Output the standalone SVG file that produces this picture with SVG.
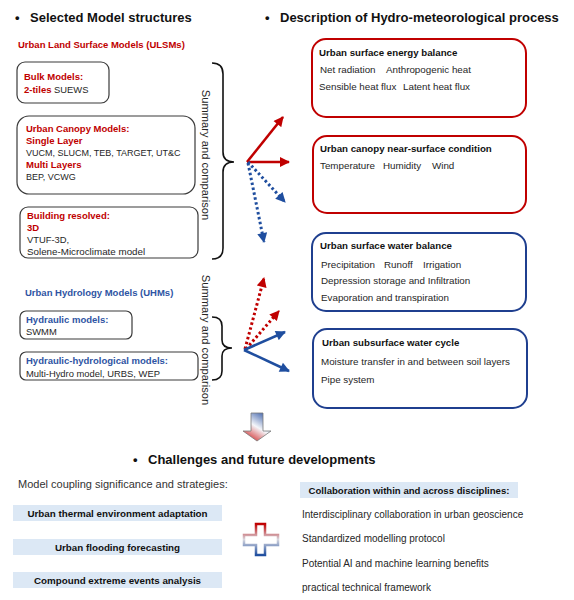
<svg xmlns="http://www.w3.org/2000/svg" width="574" height="600" viewBox="0 0 574 600">
<style>
text{font-family:"Liberation Sans",Arial,sans-serif;fill:#1a1a1a}
.h{font-size:13px;font-weight:bold;fill:#111}
.lab{font-size:9.5px;font-weight:bold}
.red{fill:#C00000}
.blu{fill:#2E54A3}
.t{font-size:9.4px;fill:#262626}
.r{font-size:9.8px;fill:#262626}
.bt{font-size:9.7px;font-weight:bold;fill:#111}
.lb{fill:#fff;stroke:#3a3a3a;stroke-width:1.2}
.rb{fill:#fff;stroke:#C00000;stroke-width:2}
.bb{fill:#fff;stroke:#1F3F8F;stroke-width:2}
.bar{fill:#DCE8F5}
.brk{fill:none;stroke:#111;stroke-width:1.6}
.sr{stroke:#C00000;stroke-width:2.6;fill:none}
.sb{stroke:#1F4E9F;stroke-width:2.6;fill:none}
.dr{stroke:#C00000;stroke-width:3;stroke-dasharray:2.5 2.5;fill:none}
.db{stroke:#1F4E9F;stroke-width:3;stroke-dasharray:2.5 2.5;fill:none}
.sum{font-size:11.2px;fill:#262626}
</style>
<defs>
<marker id="aR" viewBox="0 0 10 10" refX="9" refY="5" markerWidth="11" markerHeight="10" markerUnits="userSpaceOnUse" orient="auto"><path d="M0,0 L10,5 L0,10 z" fill="#C00000"/></marker>
<marker id="aB" viewBox="0 0 10 10" refX="9" refY="5" markerWidth="11" markerHeight="10" markerUnits="userSpaceOnUse" orient="auto"><path d="M0,0 L10,5 L0,10 z" fill="#1F4E9F"/></marker>
<linearGradient id="gA" x1="0.8" y1="0" x2="0.2" y2="1"><stop offset="0" stop-color="#3F62AA"/><stop offset="0.5" stop-color="#F4F6FA"/><stop offset="1" stop-color="#D02525"/></linearGradient>
<linearGradient id="gP" gradientUnits="userSpaceOnUse" x1="0" y1="524" x2="0" y2="555"><stop offset="0" stop-color="#C00000"/><stop offset="0.5" stop-color="#D8D8E0"/><stop offset="1" stop-color="#1F4E9F"/></linearGradient>
</defs>

<g id="headers">
<text class="h" x="15" y="22">•</text><text class="h" x="30" y="22">Selected Model structures</text>
<text class="h" x="265" y="22">•</text><text class="h" x="280" y="22">Description of Hydro-meteorological process</text>
<text class="h" x="133" y="464">•</text><text class="h" x="148" y="464">Challenges and future developments</text>
</g>

<text class="lab red" x="18" y="48">Urban Land Surface Models (ULSMs)</text>

<g id="bulk">
<rect class="lb" x="17" y="62" width="92" height="41" rx="8"/>
<text class="lab red" x="24" y="80">Bulk Models:</text>
<text x="24" y="92.5" class="t"><tspan class="lab red">2-tiles</tspan> SUEWS</text>
</g>

<g id="canopy">
<rect class="lb" x="17" y="116" width="178" height="78" rx="12"/>
<text class="lab red" x="26" y="131.5">Urban Canopy Models:</text>
<text class="lab red" x="26" y="143.5">Single Layer</text>
<text class="t" x="26" y="156" style="font-size:9px">VUCM, SLUCM, TEB, TARGET, UT&amp;C</text>
<text class="lab red" x="26" y="168">Multi Layers</text>
<text class="t" x="26" y="180" style="font-size:9px">BEP, VCWG</text>
</g>

<g id="building">
<rect class="lb" x="20" y="207" width="178" height="51" rx="8"/>
<text class="lab red" x="27" y="218.5">Building resolved:</text>
<text class="lab red" x="27" y="230.5">3D</text>
<text class="t" x="27" y="242.5">VTUF-3D,</text>
<text class="t" x="27" y="255" style="font-size:9.8px">Solene-Microclimate model</text>
</g>

<text class="lab blu" x="25" y="295.5">Urban Hydrology Models (UHMs)</text>

<g id="hydraulic">
<rect class="lb" x="20" y="311" width="112" height="28" rx="6"/>
<text class="lab blu" x="26" y="322.5">Hydraulic models:</text>
<text class="t" x="26" y="334.5">SWMM</text>
</g>

<g id="hydrohydro">
<rect class="lb" x="20" y="352" width="178" height="28" rx="6"/>
<text class="lab blu" x="26" y="363.5">Hydraulic-hydrological models:</text>
<text class="t" x="26" y="376.5">Multi-Hydro model, URBS, WEP</text>
</g>

<g id="summary1">
<path class="brk" d="M212,63 Q223,63 223,74 L223,152 Q223,162 234,162 Q223,162 223,172 L223,248 Q223,259 212,259"/>
<text class="sum" transform="translate(201.5,155) rotate(90)" text-anchor="middle">Summary and comparison</text>
</g>
<g id="summary2">
<path class="brk" d="M212,317 Q222,317 222,326 L222,340 Q222,348 232,348 Q222,348 222,356 L222,371 Q222,380 212,380"/>
<text class="sum" transform="translate(201.5,340) rotate(90)" text-anchor="middle">Summary and comparison</text>
</g>

<g id="energy">
<rect class="rb" x="312" y="39" width="214" height="78" rx="14"/>
<text class="bt" x="319" y="55.5">Urban surface energy balance</text>
<text class="r" x="320" y="72.5">Net radiation</text>
<text class="r" x="386" y="73">Anthropogenic heat</text>
<text class="r" x="319" y="89.5">Sensible heat flux</text>
<text class="r" x="403" y="89.5">Latent heat flux</text>
</g>

<g id="nearsurface">
<rect class="rb" x="313" y="136" width="213" height="77" rx="14"/>
<text class="bt" x="320" y="151.5">Urban canopy near-surface condition</text>
<text class="r" x="320" y="168.5">Temperature</text>
<text class="r" x="383" y="168.5">Humidity</text>
<text class="r" x="432" y="168.5">Wind</text>
</g>

<g id="waterbalance">
<rect class="bb" x="312" y="233" width="214" height="78" rx="14"/>
<text class="bt" x="320" y="248.5">Urban surface water balance</text>
<text class="r" x="321" y="267.5">Precipitation</text>
<text class="r" x="384" y="267.5">Runoff</text>
<text class="r" x="423" y="267.5">Irrigation</text>
<text class="r" x="321" y="284">Depression storage and Infiltration</text>
<text class="r" x="321" y="300.5">Evaporation and transpiration</text>
</g>

<g id="subsurface">
<rect class="bb" x="313" y="329" width="214" height="79" rx="14"/>
<text class="bt" x="322" y="345.5">Urban subsurface water cycle</text>
<text class="r" x="321" y="364.5">Moisture transfer in and between soil layers</text>
<text class="r" x="321" y="382.5">Pipe system</text>
</g>

<g id="connectors">
<line class="sr" x1="247" y1="162" x2="283" y2="117" marker-end="url(#aR)"/>
<line class="sr" x1="247" y1="162" x2="289" y2="162" marker-end="url(#aR)"/>
<line class="db" x1="248" y1="162" x2="285" y2="202" marker-end="url(#aB)"/>
<line class="db" x1="248" y1="163" x2="264" y2="242" marker-end="url(#aB)"/>
<line class="dr" x1="245" y1="349" x2="264" y2="278" marker-end="url(#aR)"/>
<line class="dr" x1="246" y1="349" x2="279" y2="311" marker-end="url(#aR)"/>
<line class="sb" x1="244" y1="350" x2="285" y2="332" marker-end="url(#aB)"/>
<line class="sb" x1="244" y1="350" x2="289" y2="371" marker-end="url(#aB)"/>
</g>

<g id="downarrow">
<path d="M251,413 L263,413 L263,431 L271,431 L257,441 L243,431 L251,431 Z" fill="url(#gA)" stroke="#7a7a7a" stroke-width="0.8"/>
</g>

<text x="18" y="488" style="font-size:11px;fill:#333">Model coupling significance and strategies:</text>

<g id="thermal">
<rect class="bar" x="13" y="505" width="209" height="16"/>
<text class="bt" x="117.5" y="516.5" text-anchor="middle" style="font-size:9.8px">Urban thermal environment adaptation</text>
</g>
<g id="flooding">
<rect class="bar" x="13" y="539" width="209" height="16"/>
<text class="bt" x="117.5" y="550.5" text-anchor="middle" style="font-size:9.8px">Urban flooding forecasting</text>
</g>
<g id="compound">
<rect class="bar" x="13" y="572" width="209" height="16"/>
<text class="bt" x="117.5" y="583.5" text-anchor="middle" style="font-size:9.8px">Compound extreme events analysis</text>
</g>

<g id="plus">
<path d="M256,524 H265 V535 H278 V545 H265 V555 H256 V545 H244 V535 H256 Z" fill="#fff" stroke="url(#gP)" stroke-width="2.5"/>
</g>

<g id="collab">
<rect class="bar" x="300" y="482" width="218" height="16"/>
<text class="bt" x="409" y="493.5" text-anchor="middle" style="font-size:9.6px">Collaboration within and across disciplines:</text>
<text class="r" x="302" y="517.5" style="font-size:10px">Interdisciplinary collaboration in urban geoscience</text>
<text class="r" x="302" y="542" style="font-size:10px">Standardized modelling protocol</text>
<text class="r" x="302" y="566.5" style="font-size:10px">Potential AI and machine learning benefits</text>
<text class="r" x="302" y="591" style="font-size:10px">practical technical framework</text>
</g>
</svg>
